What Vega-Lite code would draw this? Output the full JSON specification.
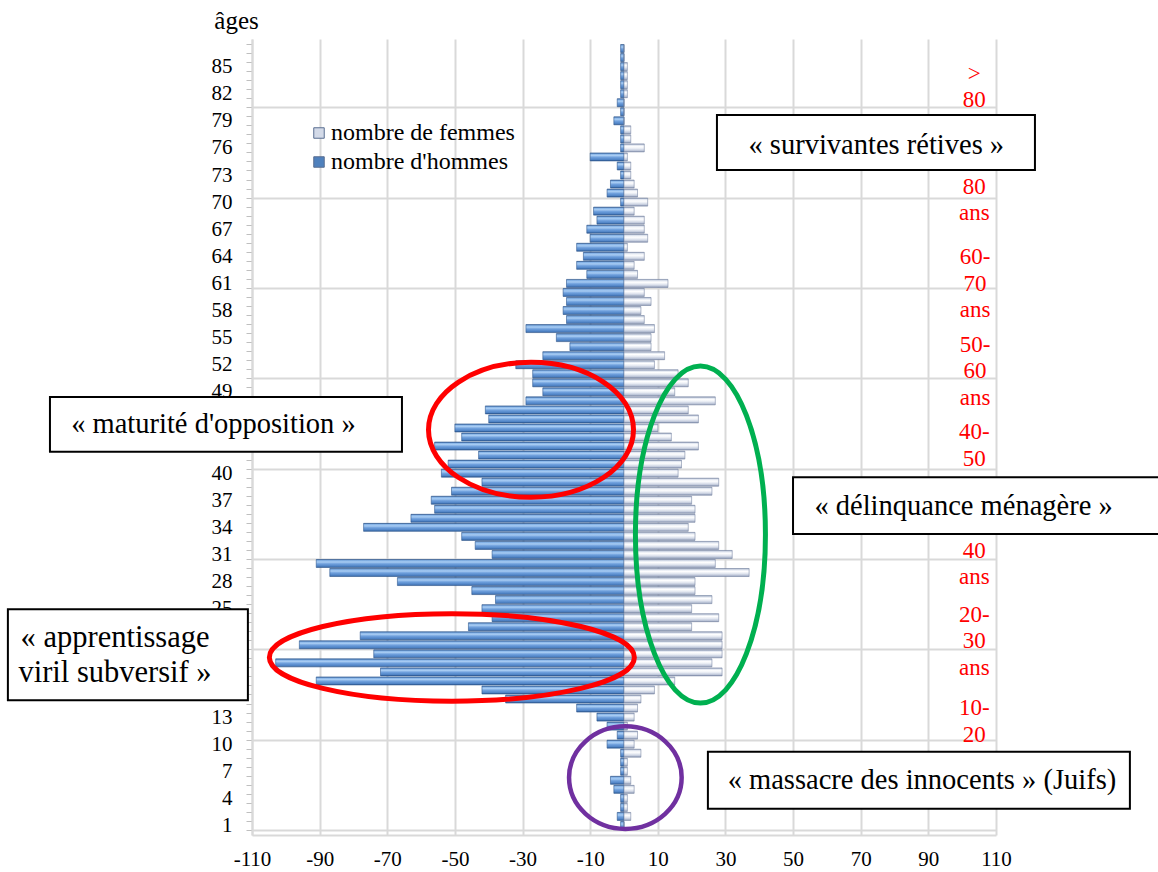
{
  "$schema": "https://vega.github.io/schema/vega-lite/v6.json",
  "width": 744,
  "height": 796,
  "autosize": {"type": "none"},
  "padding": {"left": 252, "top": 39, "right": 162, "bottom": 37},
  "background": "white",
  "config": {"view": {"stroke": null}, "font": "Liberation Serif"},
  "datasets": {
    "pyramide": [
      {"age":1,"hommes":-1,"femmes":0},{"age":2,"hommes":-2,"femmes":2},{"age":3,"hommes":-1,"femmes":1},{"age":4,"hommes":-1,"femmes":1},
      {"age":5,"hommes":-3,"femmes":3},{"age":6,"hommes":-4,"femmes":2},{"age":7,"hommes":-1,"femmes":1},{"age":8,"hommes":-1,"femmes":1},
      {"age":9,"hommes":-1,"femmes":5},{"age":10,"hommes":-5,"femmes":3},{"age":11,"hommes":-2,"femmes":4},{"age":12,"hommes":-5,"femmes":1},
      {"age":13,"hommes":-8,"femmes":3},{"age":14,"hommes":-14,"femmes":4},{"age":15,"hommes":-35,"femmes":5},{"age":16,"hommes":-42,"femmes":9},
      {"age":17,"hommes":-91,"femmes":15},{"age":18,"hommes":-72,"femmes":29},{"age":19,"hommes":-103,"femmes":26},{"age":20,"hommes":-74,"femmes":29},
      {"age":21,"hommes":-96,"femmes":29},{"age":22,"hommes":-78,"femmes":29},{"age":23,"hommes":-46,"femmes":20},{"age":24,"hommes":-39,"femmes":28},
      {"age":25,"hommes":-42,"femmes":20},{"age":26,"hommes":-38,"femmes":26},{"age":27,"hommes":-45,"femmes":21},{"age":28,"hommes":-67,"femmes":21},
      {"age":29,"hommes":-87,"femmes":37},{"age":30,"hommes":-91,"femmes":27},{"age":31,"hommes":-39,"femmes":32},{"age":32,"hommes":-44,"femmes":28},
      {"age":33,"hommes":-48,"femmes":21},{"age":34,"hommes":-77,"femmes":19},{"age":35,"hommes":-63,"femmes":21},{"age":36,"hommes":-56,"femmes":21},
      {"age":37,"hommes":-57,"femmes":20},{"age":38,"hommes":-51,"femmes":26},{"age":39,"hommes":-42,"femmes":28},{"age":40,"hommes":-54,"femmes":16},
      {"age":41,"hommes":-52,"femmes":17},{"age":42,"hommes":-43,"femmes":18},{"age":43,"hommes":-56,"femmes":22},{"age":44,"hommes":-48,"femmes":14},
      {"age":45,"hommes":-50,"femmes":10},{"age":46,"hommes":-40,"femmes":22},{"age":47,"hommes":-41,"femmes":19},{"age":48,"hommes":-29,"femmes":27},
      {"age":49,"hommes":-24,"femmes":15},{"age":50,"hommes":-27,"femmes":19},{"age":51,"hommes":-27,"femmes":16},{"age":52,"hommes":-32,"femmes":9},
      {"age":53,"hommes":-24,"femmes":12},{"age":54,"hommes":-16,"femmes":8},{"age":55,"hommes":-20,"femmes":8},{"age":56,"hommes":-29,"femmes":9},
      {"age":57,"hommes":-17,"femmes":6},{"age":58,"hommes":-18,"femmes":5},{"age":59,"hommes":-17,"femmes":8},{"age":60,"hommes":-18,"femmes":6},
      {"age":61,"hommes":-17,"femmes":13},{"age":62,"hommes":-11,"femmes":4},{"age":63,"hommes":-14,"femmes":3},{"age":64,"hommes":-12,"femmes":6},
      {"age":65,"hommes":-14,"femmes":1},{"age":66,"hommes":-10,"femmes":7},{"age":67,"hommes":-11,"femmes":6},{"age":68,"hommes":-8,"femmes":6},
      {"age":69,"hommes":-9,"femmes":3},{"age":70,"hommes":-1,"femmes":7},{"age":71,"hommes":-5,"femmes":4},{"age":72,"hommes":-4,"femmes":3},
      {"age":73,"hommes":-1,"femmes":2},{"age":74,"hommes":-2,"femmes":2},{"age":75,"hommes":-10,"femmes":1},{"age":76,"hommes":-1,"femmes":6},
      {"age":77,"hommes":-1,"femmes":2},{"age":78,"hommes":-1,"femmes":2},{"age":79,"hommes":-3,"femmes":0},{"age":80,"hommes":-1,"femmes":0},
      {"age":81,"hommes":-2,"femmes":0},{"age":82,"hommes":-1,"femmes":1},{"age":83,"hommes":-1,"femmes":1},{"age":84,"hommes":-1,"femmes":1},
      {"age":85,"hommes":-1,"femmes":1},{"age":86,"hommes":-1,"femmes":0},{"age":87,"hommes":-1,"femmes":0}
    ],
    "groupes": [
      {"classe": ">\n80", "x": 103.6, "age": 84.2},
      {"classe": "80\nans", "x": 103.6, "age": 71.7},
      {"classe": "60-\n70\nans", "x": 103.8, "age": 63.9},
      {"classe": "50-\n60\nans", "x": 103.8, "age": 54.2},
      {"classe": "40-\n50", "x": 103.6, "age": 44.5},
      {"classe": "40\nans", "x": 103.6, "age": 31.4},
      {"classe": "20-\n30\nans", "x": 103.6, "age": 24.3},
      {"classe": "10-\n20", "x": 103.6, "age": 14.0}
    ],
    "textes": [
      {"texte": "« survivantes rétives »", "x": 74.6, "age": 76.3},
      {"texte": "« maturité d'opposition »", "x": -121.4, "age": 45.4},
      {"texte": "« délinquance ménagère »", "x": 100.4, "age": 36.4},
      {"texte": "« massacre des innocents » (Juifs)", "x": 88.1, "age": 6.0}
    ]
  },
  "layer": [
    {
      "data": {"name": "pyramide"},
      "mark": {
        "type": "bar", "orient": "horizontal", "size": 8,
        "color": {"gradient": "linear", "x1": 0, "y1": 0, "x2": 0, "y2": 1,
          "stops": [{"offset": 0, "color": "#355F99"}, {"offset": 0.14, "color": "#86B4E8"}, {"offset": 0.32, "color": "#A8CCF3"}, {"offset": 0.55, "color": "#6FA0DD"}, {"offset": 0.85, "color": "#4E82C4"}, {"offset": 1, "color": "#2E578E"}]},
        "stroke": "#2E578E", "strokeWidth": 0.6
      },
      "encoding": {
        "x": {"field": "hommes", "type": "quantitative",
          "scale": {"domain": [-110, 110], "nice": false, "zero": false},
          "axis": {"values": [-110, -90, -70, -50, -30, -10, 10, 30, 50, 70, 90, 110], "tickCount": 50, "title": null,
            "labelExpr": "toString(datum.value)",
            "grid": true, "gridColor": "#D9D9D9", "gridWidth": 2, "ticks": false,
            "domain": true, "domainColor": "#D9D9D9", "domainWidth": 2,
            "labelFont": "Liberation Serif", "labelFontSize": 21, "labelColor": "black", "labelPadding": 13,
            "labelFlush": false, "labelOverlap": false}},
        "y": {"field": "age", "type": "quantitative",
          "scale": {"domain": [0.5, 87.5], "nice": false, "zero": false},
          "axis": {
            "values": [0.5,1.5,2.5,3.5,4.5,5.5,6.5,7.5,8.5,9.5,10.5,11.5,12.5,13.5,14.5,15.5,16.5,17.5,18.5,19.5,20.5,21.5,22.5,23.5,24.5,25.5,26.5,27.5,28.5,29.5,30.5,31.5,32.5,33.5,34.5,35.5,36.5,37.5,38.5,39.5,40.5,41.5,42.5,43.5,44.5,45.5,46.5,47.5,48.5,49.5,50.5,51.5,52.5,53.5,54.5,55.5,56.5,57.5,58.5,59.5,60.5,61.5,62.5,63.5,64.5,65.5,66.5,67.5,68.5,69.5,70.5,71.5,72.5,73.5,74.5,75.5,76.5,77.5,78.5,79.5,80.5,81.5,82.5,83.5,84.5,85.5,86.5,87.5,1,4,7,10,13,25,28,31,34,37,40,49,52,55,58,61,64,67,70,73,76,79,82,85],
            "tickCount": 500,
            "title": "âges", "titleAngle": 0, "titleX": -16, "titleY": -19, "titleAlign": "center", "titleBaseline": "middle",
            "titleFont": "Liberation Serif", "titleFontSize": 25, "titleFontWeight": "normal", "titleColor": "black",
            "labelExpr": "datum.value % 1 == 0 ? toString(datum.value) : ''",
            "labelFont": "Liberation Serif", "labelFontSize": 21, "labelColor": "black", "labelPadding": 14, "labelOverlap": false,
            "ticks": true, "tickSize": 6, "tickColor": "#BFBFBF", "tickWidth": 1,
            "tickOpacity": {"condition": {"test": "datum.value % 1 != 0", "value": 1}, "value": 0},
            "grid": true, "gridColor": "#D9D9D9", "gridWidth": 2,
            "gridOpacity": {"condition": {"test": "datum.value % 10 == 0.5", "value": 1}, "value": 0},
            "domain": true, "domainColor": "#D9D9D9", "domainWidth": 2}}
      }
    },
    {
      "data": {"name": "pyramide"},
      "mark": {
        "type": "bar", "orient": "horizontal", "size": 8,
        "color": {"gradient": "linear", "x1": 0, "y1": 0, "x2": 0, "y2": 1,
          "stops": [{"offset": 0, "color": "#8693AE"}, {"offset": 0.15, "color": "#DDE3EE"}, {"offset": 0.35, "color": "#FFFFFF"}, {"offset": 0.6, "color": "#E6EAF2"}, {"offset": 0.85, "color": "#BCC5D8"}, {"offset": 1, "color": "#7F8CA8"}]},
        "stroke": "#7C89A6", "strokeWidth": 0.6
      },
      "encoding": {
        "x": {"field": "femmes", "type": "quantitative", "scale": {"domain": [-110, 110], "nice": false, "zero": false}},
        "y": {"field": "age", "type": "quantitative", "scale": {"domain": [0.5, 87.5], "nice": false, "zero": false}}
      }
    },
    {
      "data": {"values": [{"série": "nombre de femmes"}, {"série": "nombre d'hommes"}]},
      "mark": {"type": "point", "shape": "square", "filled": true, "opacity": 0},
      "encoding": {
        "color": {"field": "série", "type": "nominal",
          "scale": {"domain": ["nombre de femmes", "nombre d'hommes"], "range": ["#D3DAE8", "#4F81BD"]},
          "legend": {"orient": "none", "legendX": 55, "legendY": 82, "title": null, "padding": 0,
            "labelFont": "Liberation Serif", "labelFontSize": 24, "labelColor": "black", "labelOffset": 0, "labelLimit": 0,
            "symbolType": "square", "symbolSize": 110, "symbolOpacity": 1, "symbolStrokeWidth": 1, "symbolStrokeColor": "#5A6E90",
            "rowPadding": 5}}
      }
    },
    {
      "data": {"name": "groupes"},
      "mark": {"type": "text", "color": "#FF0000", "font": "Liberation Serif", "fontSize": 23, "lineBreak": "\n", "lineHeight": 26.5, "align": "center", "baseline": "middle"},
      "encoding": {
        "x": {"field": "x", "type": "quantitative", "scale": {"domain": [-110, 110], "nice": false, "zero": false}},
        "y": {"field": "age", "type": "quantitative", "scale": {"domain": [0.5, 87.5], "nice": false, "zero": false}},
        "text": {"field": "classe", "type": "nominal"}
      }
    },
    {
      "data": {"values": [{"zone": "maturité d'opposition", "x": -27.5, "age": 44.8}]},
      "mark": {"type": "point", "shape": "M-1,0C-1,-0.3637,-0.5523,-0.6585,0,-0.6585C0.5523,-0.6585,1,-0.3637,1,0C1,0.3637,0.5523,0.6585,0,0.6585C-0.5523,0.6585,-1,0.3637,-1,0Z", "size": 42025, "filled": false, "color": "#FF0000", "stroke": "#FF0000", "strokeWidth": 5, "opacity": 1},
      "encoding": {
        "x": {"field": "x", "type": "quantitative", "scale": {"domain": [-110, 110], "nice": false, "zero": false}},
        "y": {"field": "age", "type": "quantitative", "scale": {"domain": [0.5, 87.5], "nice": false, "zero": false}}
      }
    },
    {
      "data": {"values": [{"zone": "apprentissage viril subversif", "x": -50.9, "age": 19.6}]},
      "mark": {"type": "point", "shape": "M-1,0C-1,-0.1326,-0.5523,-0.24,0,-0.24C0.5523,-0.24,1,-0.1326,1,0C1,0.1326,0.5523,0.24,0,0.24C-0.5523,0.24,-1,0.1326,-1,0Z", "size": 133225, "filled": false, "color": "#FF0000", "stroke": "#FF0000", "strokeWidth": 5, "opacity": 1},
      "encoding": {
        "x": {"field": "x", "type": "quantitative", "scale": {"domain": [-110, 110], "nice": false, "zero": false}},
        "y": {"field": "age", "type": "quantitative", "scale": {"domain": [0.5, 87.5], "nice": false, "zero": false}}
      }
    },
    {
      "data": {"values": [{"zone": "délinquance ménagère", "x": 22.6, "age": 33.2}]},
      "mark": {"type": "point", "shape": "M0,-1C0.2131,-1,0.3858,-0.5523,0.3858,0C0.3858,0.5523,0.2131,1,0,1C-0.2131,1,-0.3858,0.5523,-0.3858,0C-0.3858,-0.5523,-0.2131,-1,0,-1Z", "size": 113569, "filled": false, "color": "#00B050", "stroke": "#00B050", "strokeWidth": 5, "opacity": 1},
      "encoding": {
        "x": {"field": "x", "type": "quantitative", "scale": {"domain": [-110, 110], "nice": false, "zero": false}},
        "y": {"field": "age", "type": "quantitative", "scale": {"domain": [0.5, 87.5], "nice": false, "zero": false}}
      }
    },
    {
      "data": {"values": [{"zone": "massacre des innocents", "x": 0.4, "age": 6.3}]},
      "mark": {"type": "point", "shape": "M-1,0C-1,-0.5031,-0.5523,-0.911,0,-0.911C0.5523,-0.911,1,-0.5031,1,0C1,0.5031,0.5523,0.911,0,0.911C-0.5523,0.911,-1,0.5031,-1,0Z", "size": 12679, "filled": false, "color": "#7030A0", "stroke": "#7030A0", "strokeWidth": 4.5, "opacity": 1},
      "encoding": {
        "x": {"field": "x", "type": "quantitative", "scale": {"domain": [-110, 110], "nice": false, "zero": false}},
        "y": {"field": "age", "type": "quantitative", "scale": {"domain": [0.5, 87.5], "nice": false, "zero": false}}
      }
    },
    {
      "data": {"values": [{"cadre": "survivantes rétives", "x": 74.5, "age": 76.6}]},
      "mark": {"type": "point", "shape": "M-1,-0.173H1V0.173H-1Z", "size": 101124, "filled": true, "fill": "white", "stroke": "black", "strokeWidth": 2, "opacity": 1},
      "encoding": {
        "x": {"field": "x", "type": "quantitative", "scale": {"domain": [-110, 110], "nice": false, "zero": false}},
        "y": {"field": "age", "type": "quantitative", "scale": {"domain": [0.5, 87.5], "nice": false, "zero": false}}
      }
    },
    {
      "data": {"values": [{"cadre": "maturité d'opposition", "x": -117.7, "age": 45.4}]},
      "mark": {"type": "point", "shape": "M-1,-0.156H1V0.156H-1Z", "size": 123904, "filled": true, "fill": "white", "stroke": "black", "strokeWidth": 2, "opacity": 1},
      "encoding": {
        "x": {"field": "x", "type": "quantitative", "scale": {"domain": [-110, 110], "nice": false, "zero": false}},
        "y": {"field": "age", "type": "quantitative", "scale": {"domain": [0.5, 87.5], "nice": false, "zero": false}}
      }
    },
    {
      "data": {"values": [{"cadre": "délinquance ménagère", "x": 107.2, "age": 36.4}]},
      "mark": {"type": "point", "shape": "M-1,-0.147H1V0.147H-1Z", "size": 149769, "filled": true, "fill": "white", "stroke": "black", "strokeWidth": 2, "opacity": 1},
      "encoding": {
        "x": {"field": "x", "type": "quantitative", "scale": {"domain": [-110, 110], "nice": false, "zero": false}},
        "y": {"field": "age", "type": "quantitative", "scale": {"domain": [0.5, 87.5], "nice": false, "zero": false}}
      }
    },
    {
      "data": {"values": [{"cadre": "apprentissage viril subversif", "x": -146.7, "age": 19.9}]},
      "mark": {"type": "point", "shape": "M-1,-0.379H1V0.379H-1Z", "size": 57600, "filled": true, "fill": "white", "stroke": "black", "strokeWidth": 2, "opacity": 1},
      "encoding": {
        "x": {"field": "x", "type": "quantitative", "scale": {"domain": [-110, 110], "nice": false, "zero": false}},
        "y": {"field": "age", "type": "quantitative", "scale": {"domain": [0.5, 87.5], "nice": false, "zero": false}}
      }
    },
    {
      "data": {"values": [{"cadre": "massacre des innocents", "x": 87.2, "age": 6.0}]},
      "mark": {"type": "point", "shape": "M-1,-0.135H1V0.135H-1Z", "size": 178084, "filled": true, "fill": "white", "stroke": "black", "strokeWidth": 2, "opacity": 1},
      "encoding": {
        "x": {"field": "x", "type": "quantitative", "scale": {"domain": [-110, 110], "nice": false, "zero": false}},
        "y": {"field": "age", "type": "quantitative", "scale": {"domain": [0.5, 87.5], "nice": false, "zero": false}}
      }
    },
    {
      "data": {"name": "textes"},
      "mark": {"type": "text", "color": "black", "font": "Liberation Serif", "fontSize": 28.5, "align": "center", "baseline": "middle"},
      "encoding": {
        "x": {"field": "x", "type": "quantitative", "scale": {"domain": [-110, 110], "nice": false, "zero": false}},
        "y": {"field": "age", "type": "quantitative", "scale": {"domain": [0.5, 87.5], "nice": false, "zero": false}},
        "text": {"field": "texte", "type": "nominal"}
      }
    },
    {
      "data": {"values": [{"texte": "« apprentissage\nviril subversif »", "x": -150.5, "age": 21.8}]},
      "mark": {"type": "text", "color": "black", "font": "Liberation Serif", "fontSize": 30.5, "lineBreak": "\n", "lineHeight": 35, "align": "center", "baseline": "middle"},
      "encoding": {
        "x": {"field": "x", "type": "quantitative", "scale": {"domain": [-110, 110], "nice": false, "zero": false}},
        "y": {"field": "age", "type": "quantitative", "scale": {"domain": [0.5, 87.5], "nice": false, "zero": false}},
        "text": {"field": "texte", "type": "nominal"}
      }
    }
  ]
}
